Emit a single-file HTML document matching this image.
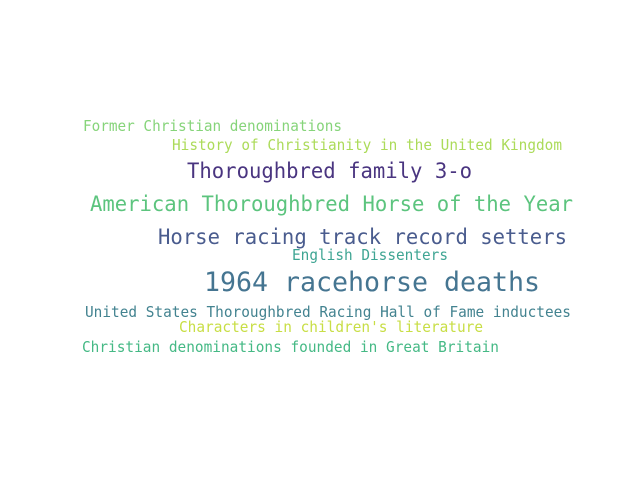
<!DOCTYPE html>
<html><head><meta charset="utf-8"><style>
html,body{margin:0;padding:0;background:#fff;width:640px;height:480px;overflow:hidden}
text{font-family:"DejaVu Sans Mono","Liberation Mono",monospace}
</style></head><body>
<svg id="cloud" width="640" height="480" viewBox="0 0 640 480"></svg>
<script>
const words=["Former Christian denominations","History of Christianity in the United Kingdom","Thoroughbred family 3-o","American Thoroughbred Horse of the Year","Horse racing track record setters","English Dissenters","1964 racehorse deaths","United States Thoroughbred Racing Hall of Fame inductees","Characters in children's literature","Christian denominations founded in Great Britain"];
const weights=[15,15,21,21,21,15,27,15,15,15];
const colors=["#86d47a","#acdb5a","#4a3580","#5cc47e","#4a5c8e","#3fa593","#457591","#438390","#c8de45","#45b985"];
const xs=[83,172,187,90,158,292,204,85,179,82];
const x2=[342,562,472,573,567,448,540,571,483,499];
const ys=[131,150,178,211,244,260,291,317,332,352];
const svg=document.getElementById('cloud');
words.forEach((w,i)=>{
 const t=document.createElementNS('http://www.w3.org/2000/svg','text');
 
 
 t.setAttribute('x',xs[i]);t.setAttribute('y',ys[i]);
 t.setAttribute('font-size',weights[i]);
 t.setAttribute('fill',colors[i]);
 t.setAttribute('textLength',x2[i]-xs[i]);
 t.setAttribute('lengthAdjust','spacingAndGlyphs');
 t.textContent=w;svg.appendChild(t);
});
</script>
</body></html>
